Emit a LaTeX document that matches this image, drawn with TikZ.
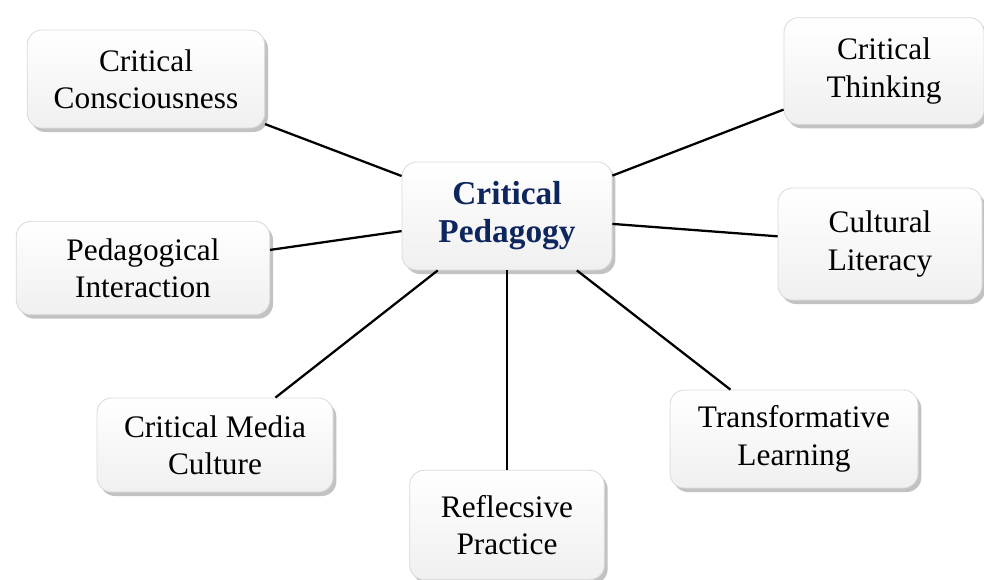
\documentclass[tikz,border=0pt]{standalone}
\usepackage{fontspec}
\setmainfont{Liberation Serif}
\usetikzlibrary{shadows}

\definecolor{titleblue}{RGB}{14,38,94}

\tikzset{
  box/.style 2 args={draw=gray!30, line width=0.6pt, rounded corners=11pt,
    top color=white, bottom color=gray!12, align=center, inner sep=1pt,
    minimum width=#1, minimum height=#2,
    font=\fontsize{23.5}{28}\selectfont,
    drop shadow={shadow xshift=2.5pt, shadow yshift=-3pt, fill=gray!80, opacity=0.6}},
  title/.style={font=\fontsize{25}{28.5}\selectfont\bfseries, text=titleblue},
  link/.style={line width=1.7pt}
}

\begin{document}
\begin{tikzpicture}[x=0.75pt, y=-0.75pt]
\useasboundingbox (0,0) rectangle (984,579);

\node[box={157.5pt}{81pt}, title] (ped) at (507,216) {Critical\\Pedagogy};

\node[box={178pt}{73.5pt}] (consc) at (146,79) {Critical\\Consciousness};
\node[box={150pt}{80pt}] (think) at (884,71) {Critical\\Thinking};
\node[box={190pt}{70pt}] (inter) at (143,268) {Pedagogical\\Interaction};
\node[box={153pt}{84pt}] (liter) at (880,244) {Cultural\\Literacy};
\node[box={177pt}{70.5pt}] (media) at (215,445) {Critical Media\\Culture};
\node[box={146pt}{82pt}] (refl) at (507,525) {Reflecsive\\Practice};
\node[box={186pt}{73.5pt}] (trans) at (794,439) {Transformative\\Learning};

\draw[link] (consc) -- (ped);
\draw[link] (think) -- (ped);
\draw[link] (inter) -- (ped);
\draw[link] (liter) -- (ped);
\draw[link] (media) -- (ped);
\draw[link] (refl) -- (ped);
\draw[link] (trans) -- (ped);
\end{tikzpicture}
\end{document}
